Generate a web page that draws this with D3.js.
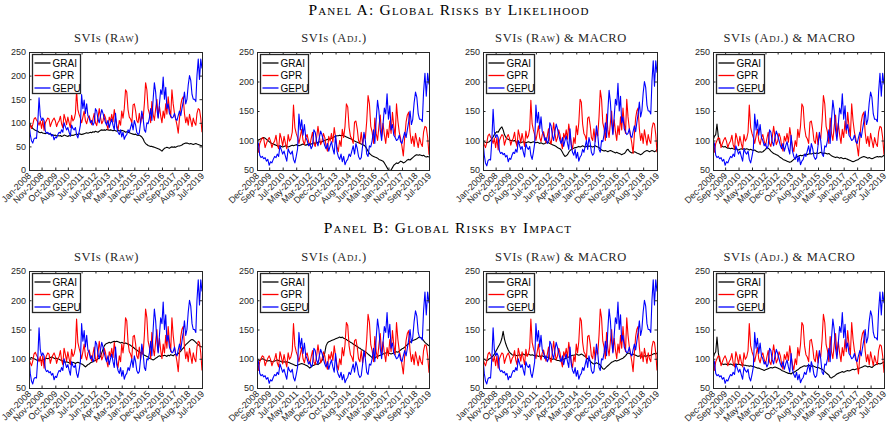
<!DOCTYPE html>
<html><head><meta charset="utf-8">
<script src="https://cdn.jsdelivr.net/npm/d3@7"></script>
<style>
body{margin:0;background:#fff;}
svg{display:block;background:#fff;}
.ptitle{font-family:"Liberation Serif","DejaVu Serif",serif;font-variant:small-caps;font-size:15.5px;letter-spacing:1.2px;fill:#000;}
.stitle{font-family:"Liberation Serif","DejaVu Serif",serif;font-variant:small-caps;font-size:12.5px;letter-spacing:0.6px;fill:#262626;}
.tick text{font-family:"Liberation Sans",Arial,sans-serif;font-size:9px;fill:#262626;}
.legend text{font-family:"Liberation Sans",Arial,sans-serif;font-size:10px;fill:#000;}
</style></head><body>
<svg id="chart" width="889" height="427"></svg>
<script>
// ---------- DATA ----------
const PANEL_TITLES = ["Panel A: Global Risks by Likelihood", "Panel B: Global Risks by Impact"];
const SUB_TITLES = ["SVIs (Raw)", "SVIs (Adj.)", "SVIs (Raw) & MACRO", "SVIs (Adj.) & MACRO"];
const SERIES_NAMES = ["GRAI", "GPR", "GEPU"];
const RAW_TICKS = ["Jan-2008","Nov-2008","Oct-2009","Aug-2010","Jul-2011","Jun-2012","Apr-2013","Mar-2014","Jan-2015","Dec-2015","Nov-2016","Sep-2017","Aug-2018","Jul-2019"];
const ADJ_TICKS = ["Dec-2008","Sep-2009","Jul-2010","May-2011","Mar-2012","Dec-2012","Oct-2013","Aug-2014","Jun-2015","Mar-2016","Jan-2017","Nov-2017","Sep-2018","Jul-2019"];
const Y_TICKS_0 = [0, 50, 100, 150, 200, 250];
const Y_TICKS_50 = [50, 100, 150, 200, 250];

// GPR / GEPU, Jan-2008 = 100 (monthly, Jan-2008 .. Jul-2019)
const GPR_RAW = [100,93,88,96,108,111,106,102,95,104,88,105,
84,100,105,110,108,92,100,106,110,104,92,100,
104,114,98,90,118,108,96,112,100,90,116,104,
108,120,168,128,118,110,100,112,125,105,98,110,
115,104,96,108,120,100,94,110,130,112,98,104,
118,110,96,86,112,104,118,102,128,110,94,85,
105,95,125,110,130,170,165,128,112,108,100,138,
140,125,105,100,120,98,115,108,140,185,170,130,
120,100,145,118,105,130,150,112,135,115,100,125,
110,140,118,155,130,112,170,140,120,108,95,78,
110,138,150,155,120,100,112,95,118,105,92,110,
100,95,120,130,128,110,80];
const GEPU_RAW = [100,75,62,57,66,68,67,100,153,115,105,110,
105,82,78,80,76,78,72,75,64,70,68,75,
80,78,85,80,100,92,85,90,80,72,95,88,
85,90,75,68,80,95,160,130,148,120,140,115,
110,100,105,95,100,130,125,108,100,115,128,120,
110,100,95,105,90,100,108,95,85,120,90,80,
75,85,70,80,65,72,75,85,80,90,100,85,
105,95,80,75,78,100,125,110,85,80,100,98,
110,130,105,150,185,165,130,110,140,170,160,197,
150,175,130,140,120,115,110,112,120,108,105,115,
125,115,130,145,165,140,150,180,200,190,160,150,
150,145,200,235,192,235,215];
// GPR / GEPU, Dec-2008 = 100 (monthly, Dec-2008 .. Jul-2019)
const GPR_ADJ = [100,80,95,100,105,103,88,95,101,105,99,88,
95,99,109,93,86,112,103,91,107,95,86,110,
99,103,114,160,122,112,105,95,107,119,100,93,
105,110,99,91,103,114,95,90,105,124,107,93,
99,112,105,91,82,107,99,112,97,122,105,90,
81,100,90,119,105,124,162,157,122,107,103,95,
131,133,119,100,95,114,93,110,103,133,176,162,
124,114,95,138,112,100,124,143,107,129,110,95,
119,105,133,112,148,124,107,162,133,114,103,90,
74,105,131,143,148,114,95,107,90,112,100,88,
105,95,90,114,124,122,105,76];
const GEPU_ADJ = [100,95,75,71,73,69,71,65,68,58,64,62,
68,73,71,77,73,91,84,77,82,73,65,86,
80,77,82,68,62,73,86,145,118,135,109,127,
105,100,91,95,86,91,118,114,98,91,105,116,
109,100,91,86,95,82,91,98,86,77,109,82,
73,68,77,64,73,59,65,68,77,73,82,91,
77,95,86,73,68,71,91,114,100,77,73,91,
89,100,118,95,136,168,150,118,100,127,155,145,
179,136,159,118,127,109,105,100,102,109,98,95,
105,114,105,118,132,150,127,136,164,182,173,145,
136,136,132,182,214,175,214,195];

// GRAI series, one per panel
const GRAI_A1 = [100,96,92,88,86,84,83,82,80,79,80,78,
78,77,79,78,76,77,75,74,73,74,72,73,
72,73,71,72,74,73,72,71,73,72,74,73,
74,75,76,75,77,76,75,76,77,78,79,78,
79,80,79,81,80,82,81,80,82,84,85,84,
85,84,86,85,84,85,84,83,84,83,82,84,
83,82,84,83,82,80,81,80,79,78,77,76,
75,76,74,73,74,72,70,66,60,56,54,52,
51,50,50,49,48,47,46,45,44,42,40,43,
46,47,48,47,46,48,49,48,49,48,50,51,
51,52,53,55,56,57,57,56,55,56,55,54,
55,56,55,54,53,52,51];
const GRAI_A2 = [100,101,102,103,104,105,104,102,100,98,96,95,
94,93,92,91,90,91,90,89,90,91,90,89,
90,91,92,91,92,93,92,91,92,93,94,93,
92,93,94,93,94,95,96,95,96,97,98,97,
98,99,100,101,102,101,103,104,105,106,107,108,
108,109,108,109,108,107,106,105,104,103,102,100,
99,98,97,96,95,94,93,92,90,86,82,78,
76,74,73,72,71,70,68,67,66,65,62,58,
54,50,48,50,54,58,60,62,61,63,65,64,
62,63,65,67,68,67,69,71,73,75,76,75,
76,75,74,75,73,72,73,72];
const GRAI_A3 = [100,98,97,96,97,98,100,103,106,110,113,115,
114,118,121,123,118,110,106,103,102,101,100,100,
99,100,98,97,98,97,96,97,98,97,96,97,
98,97,96,97,98,97,96,97,96,95,96,95,
94,95,96,97,96,95,94,93,92,91,90,88,
87,86,84,80,76,73,74,76,80,83,85,86,
87,88,88,89,90,89,90,91,90,89,90,91,
90,91,90,89,90,91,90,89,88,86,84,83,
82,83,82,81,82,83,82,81,80,79,80,79,
78,77,76,77,78,80,84,85,82,80,79,80,
81,80,79,78,77,76,77,79,81,82,83,82,
81,82,83,82,81,82,85];
const GRAI_A4 = [100,107,110,128,106,96,92,90,89,90,88,87,
87,86,87,86,85,86,85,84,85,86,85,86,
85,86,85,84,85,84,83,84,82,81,80,81,
80,81,83,85,88,87,85,82,80,78,77,76,
75,73,71,70,68,67,66,65,64,63,64,66,
68,70,72,73,74,75,74,75,76,77,76,77,
78,77,78,79,78,79,78,79,80,79,78,79,
78,77,78,76,74,73,72,71,72,71,70,71,
70,69,70,69,68,67,66,65,64,65,66,67,
68,70,71,72,73,72,71,70,71,70,69,70,
71,72,73,72,73,72,73,75];
const GRAI_B1 = [100,101,102,101,100,99,98,97,97,98,97,98,
99,100,101,100,101,102,103,102,101,100,101,100,
99,98,97,96,95,94,95,94,93,92,93,94,
93,92,93,94,93,92,91,90,88,86,88,90,
91,93,94,95,96,97,98,100,101,104,110,116,
122,125,126,127,128,127,128,129,130,129,130,129,
128,127,128,127,126,127,126,125,124,123,121,120,
118,116,115,113,112,110,109,108,106,105,104,103,
101,100,99,98,99,101,102,104,105,104,106,105,
106,105,104,106,105,107,106,105,107,108,107,109,
111,113,116,118,121,124,126,128,130,132,133,132,
130,128,126,124,122,121,120];
const GRAI_B2 = [100,98,97,99,100,99,98,97,96,97,96,95,
95,96,97,98,97,96,95,94,95,94,95,94,
93,92,91,90,89,88,89,90,91,92,91,90,
89,88,86,84,86,88,89,90,91,90,92,94,
97,102,110,122,127,129,130,131,132,133,134,135,
136,137,136,137,135,134,133,131,130,128,127,125,
124,122,121,119,118,116,115,113,112,110,108,106,
104,102,100,101,103,104,105,106,107,108,109,110,
111,110,109,108,109,110,111,112,111,113,115,117,
118,120,122,124,126,128,130,131,132,133,134,136,
137,136,134,131,128,126,124,122];
const GRAI_B3 = [100,99,98,97,98,100,101,103,105,108,112,116,
120,124,128,135,147,134,126,120,115,111,109,107,
106,107,106,105,106,107,106,107,108,107,106,107,
108,107,106,107,106,105,106,105,104,105,104,105,
104,103,102,103,102,101,100,99,100,99,98,97,
97,96,97,98,99,100,101,102,103,104,105,106,
106,107,108,107,106,107,108,107,105,104,102,100,
98,96,94,92,91,92,93,92,91,89,86,83,
82,84,86,88,90,92,94,95,96,97,96,97,
98,99,100,101,103,105,108,110,109,108,107,108,
107,106,105,104,105,104,103,104,105,104,105,106,
105,106,107,108,109,108,110];
const GRAI_B4 = [100,108,112,137,110,96,92,91,90,91,90,91,
90,91,90,89,90,91,90,91,90,89,90,89,
89,88,88,87,88,87,87,86,85,84,84,83,
82,81,80,81,82,83,84,85,84,85,86,85,
84,83,82,80,79,78,77,76,75,75,74,76,
77,78,80,81,83,85,86,87,88,87,88,89,
88,87,88,87,86,85,85,84,83,82,80,78,
76,74,72,68,67,69,70,72,74,75,76,77,
78,77,78,79,80,79,80,81,82,81,82,83,
83,84,85,86,87,88,87,86,87,86,85,87,
89,90,91,92,91,92,93,95];

// ---------- STYLE / LAYOUT ----------
const SERIES_COLORS = ["#000000", "#ff0000", "#0000ff"];
const AX = "#262626";
const COL_LEFT = [29, 257, 483, 713];
const COL_W = [173, 172, 174, 171];
const ROW_TOP = [52, 271];
const ROW_H = [118, 117];

const PANELS = [
  {row:0,col:0,ticks:RAW_TICKS,grai:GRAI_A1,gpr:GPR_RAW,gepu:GEPU_RAW,yTicks:Y_TICKS_0},
  {row:0,col:1,ticks:ADJ_TICKS,grai:GRAI_A2,gpr:GPR_ADJ,gepu:GEPU_ADJ,yTicks:Y_TICKS_50},
  {row:0,col:2,ticks:RAW_TICKS,grai:GRAI_A3,gpr:GPR_RAW,gepu:GEPU_RAW,yTicks:Y_TICKS_50},
  {row:0,col:3,ticks:ADJ_TICKS,grai:GRAI_A4,gpr:GPR_ADJ,gepu:GEPU_ADJ,yTicks:Y_TICKS_50},
  {row:1,col:0,ticks:RAW_TICKS,grai:GRAI_B1,gpr:GPR_RAW,gepu:GEPU_RAW,yTicks:Y_TICKS_50},
  {row:1,col:1,ticks:ADJ_TICKS,grai:GRAI_B2,gpr:GPR_ADJ,gepu:GEPU_ADJ,yTicks:Y_TICKS_50},
  {row:1,col:2,ticks:RAW_TICKS,grai:GRAI_B3,gpr:GPR_RAW,gepu:GEPU_RAW,yTicks:Y_TICKS_50},
  {row:1,col:3,ticks:ADJ_TICKS,grai:GRAI_B4,gpr:GPR_ADJ,gepu:GEPU_ADJ,yTicks:Y_TICKS_50}
];

const svg = d3.select("#chart");
const parseM = d3.timeParse("%b-%Y");
const fmtM = d3.timeFormat("%b-%Y");

svg.append("text").attr("class","ptitle").attr("x",449).attr("y",15).attr("text-anchor","middle").text(PANEL_TITLES[0]);
svg.append("text").attr("class","ptitle").attr("x",448).attr("y",233).attr("text-anchor","middle").text(PANEL_TITLES[1]);

PANELS.forEach((p, k) => {
  const L = COL_LEFT[p.col], W = COL_W[p.col], T = ROW_TOP[p.row], H = ROW_H[p.row];
  const start = parseM(p.ticks[0]);
  const dates = p.grai.map((_, i) => d3.timeMonth.offset(start, i));
  const x = d3.scaleTime().domain([dates[0], dates[dates.length - 1]]).range([L, L + W]);
  const y = d3.scaleLinear().domain(d3.extent(p.yTicks)).range([T + H, T]);
  const g = svg.append("g").attr("color", AX);

  const cid = "clip" + k;
  svg.append("clipPath").attr("id", cid).append("rect")
    .attr("x", L).attr("y", T).attr("width", W).attr("height", H);
  const lines = g.append("g").attr("clip-path", `url(#${cid})`);
  const line = d3.line().x((d, i) => x(dates[i])).y(d => y(d));
  [p.grai, p.gpr, p.gepu].forEach((vals, si) => {
    lines.append("path").datum(vals)
      .attr("fill", "none").attr("stroke", SERIES_COLORS[si])
      .attr("stroke-width", 1.1).attr("stroke-linejoin", "round")
      .attr("d", line);
  });

  const tickDates = p.ticks.map(parseM);
  const ax = (gen, tr) => g.append("g").attr("transform", tr).call(gen).call(s => s.select(".domain").remove());
  const bottom = ax(d3.axisBottom(x).tickValues(tickDates).tickFormat(fmtM).tickSizeInner(-2.5).tickSizeOuter(0), `translate(0,${T + H})`);
  bottom.selectAll("text").attr("text-anchor", "end").attr("x", -3).attr("y", 3)
    .attr("dy", "0.35em").attr("transform", "rotate(-45)");
  ax(d3.axisTop(x).tickValues(tickDates).tickFormat(() => "").tickSizeInner(-2.5).tickSizeOuter(0), `translate(0,${T})`);
  ax(d3.axisLeft(y).tickValues(p.yTicks).tickSizeInner(-2.5).tickSizeOuter(0).tickPadding(3), `translate(${L},0)`);
  ax(d3.axisRight(y).tickValues(p.yTicks).tickFormat(() => "").tickSizeInner(-2.5).tickSizeOuter(0), `translate(${L + W},0)`);
  g.append("rect").attr("x", L + 0.5).attr("y", T + 0.5).attr("width", W).attr("height", H)
    .attr("fill", "none").attr("stroke", AX).attr("stroke-width", 1);

  // legend
  const lg = g.append("g").attr("class", "legend").attr("transform", `translate(${L + 3.5},${T + 2.5})`);
  lg.append("rect").attr("width", 48).attr("height", 39).attr("fill", "#fff")
    .attr("stroke", AX).attr("stroke-width", 1.3);
  SERIES_NAMES.forEach((n, si) => {
    const yy = 8.5 + si * 12.5;
    lg.append("line").attr("x1", 2).attr("x2", 18).attr("y1", yy).attr("y2", yy)
      .attr("stroke", SERIES_COLORS[si]).attr("stroke-width", 1.3);
    lg.append("text").attr("x", 20).attr("y", yy).attr("dy", "0.35em").text(n);
  });

  svg.append("text").attr("class", "stitle").attr("x", L + W / 2 - 9).attr("y", T - 10)
    .attr("text-anchor", "middle").text(SUB_TITLES[p.col]);
});
</script>
</body></html>
